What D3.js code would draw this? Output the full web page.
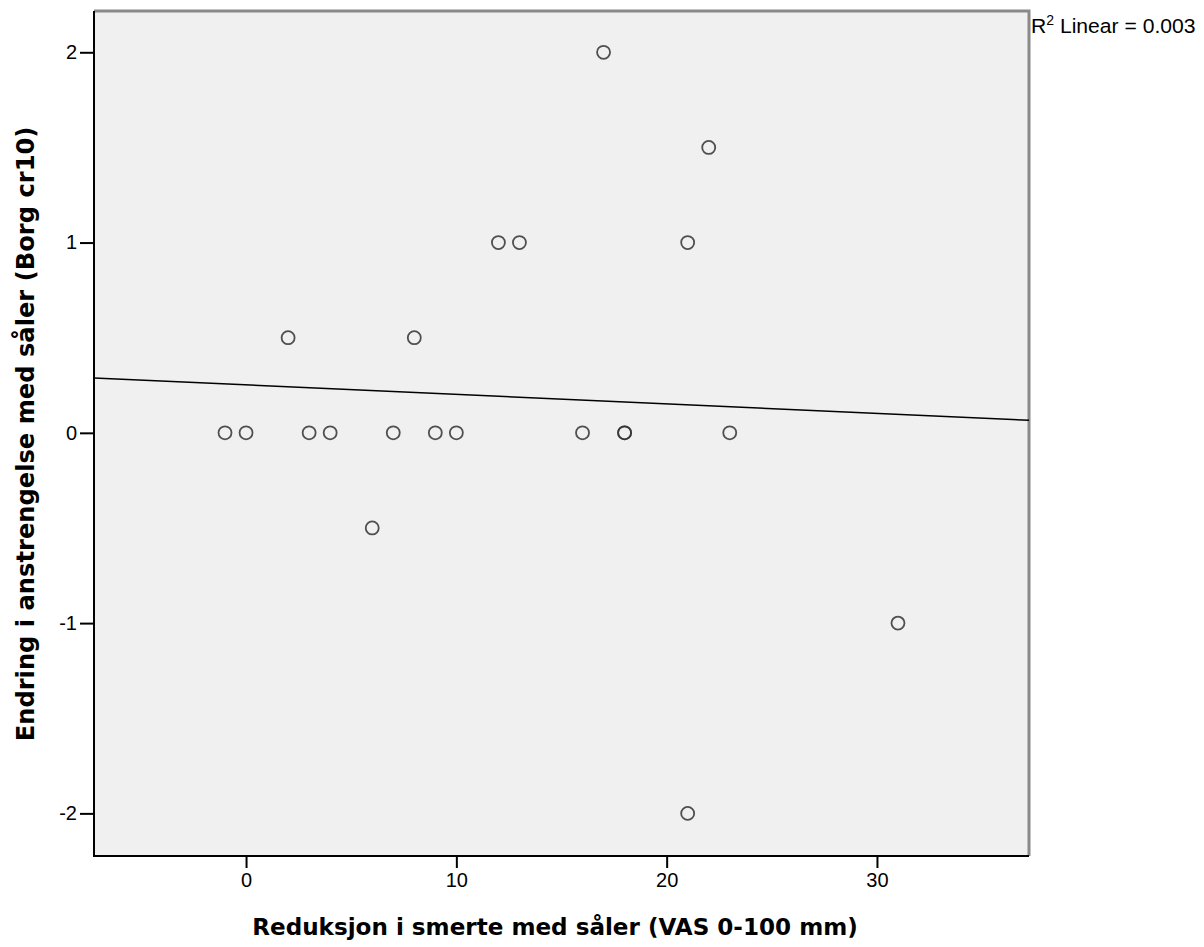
<!DOCTYPE html>
<html>
<head>
<meta charset="utf-8">
<script src="https://cdn.jsdelivr.net/npm/d3@7"></script>
<style>
  html, body { margin: 0; padding: 0; background: #fff; }
  svg { display: block; }
  text { font-family: "Liberation Sans", Arial, sans-serif; fill: #000; }
</style>
</head>
<body>
<svg id="chart" width="1204" height="947"></svg>
<script>
// Data
const xValues = [-1, 0, 2, 3, 4, 6, 7, 8, 9, 10, 12, 13, 16, 17, 18, 18, 21, 21, 22, 23, 31];
const yValues = [0, 0, 0.5, 0, 0, -0.5, 0, 0.5, 0, 0, 1, 1, 0, 2, 0, 0, 1, -2, 1.5, 0, -1];
const xTicks = [0, 10, 20, 30];
const yTicks = [-2, -1, 0, 1, 2];
const xTitle = "Reduksjon i smerte med såler (VAS 0-100 mm)";
const yTitle = "Endring i anstrengelse med såler (Borg cr10)";
const xDomain = [-7.23, 37.23];
const yDomain = [-2.224, 2.217];

const svg = d3.select("#chart");
const L = 94, R = 1029, T = 11, B = 856;

const x = d3.scaleLinear().domain(xDomain).range([L, R]);
const y = d3.scaleLinear().domain(yDomain).range([B, T]);

function fitText(sel, target, base) {
  const w = sel.node().getComputedTextLength();
  sel.attr("font-size", base * target / w);
}

// Plot background
svg.append("rect").attr("x", L).attr("y", T).attr("width", R - L).attr("height", B - T)
  .attr("fill", "#f0f0f0");
svg.append("path").attr("d", `M${L},${T}H${R}V${B}`).attr("fill", "none")
  .attr("stroke", "#8a8a8a").attr("stroke-width", 3);

// Regression line computed from the data
const n = xValues.length;
const mx = d3.mean(xValues), my = d3.mean(yValues);
let sxy = 0, sxx = 0, syy = 0;
for (let i = 0; i < n; i++) {
  sxy += (xValues[i] - mx) * (yValues[i] - my);
  sxx += (xValues[i] - mx) ** 2;
  syy += (yValues[i] - my) ** 2;
}
const slope = sxy / sxx, intercept = my - slope * mx;
const r2 = (sxy * sxy) / (sxx * syy);

svg.append("line")
  .attr("x1", x(xDomain[0])).attr("y1", y(intercept + slope * xDomain[0]))
  .attr("x2", x(xDomain[1])).attr("y2", y(intercept + slope * xDomain[1]))
  .attr("stroke", "#000").attr("stroke-width", 1.5);

// Points
svg.append("g").selectAll("circle").data(xValues.map((v, i) => [v, yValues[i]]))
  .join("circle")
  .attr("cx", d => x(d[0])).attr("cy", d => y(d[1])).attr("r", 6.5)
  .attr("fill", "none").attr("stroke", "#333").attr("stroke-opacity", 0.85).attr("stroke-width", 1.8);

// Axes
const fmt = d => String(d);
const xAxis = svg.append("g").attr("transform", `translate(0,${B})`)
  .call(d3.axisBottom(x).tickValues(xTicks).tickFormat(fmt).tickSize(12).tickPadding(5).tickSizeOuter(0));
const yAxis = svg.append("g").attr("transform", `translate(${L},0)`)
  .call(d3.axisLeft(y).tickValues(yTicks).tickFormat(fmt).tickSize(14).tickPadding(3).tickSizeOuter(0));
[xAxis, yAxis].forEach(a => {
  a.attr("font-size", 20).attr("font-family", "'Liberation Sans', Arial, sans-serif");
  a.select(".domain").attr("stroke", "#000").attr("stroke-width", 2);
  a.selectAll(".tick line").attr("stroke", "#000").attr("stroke-width", 2);
  a.selectAll(".tick text").attr("fill", "#222");
});
xAxis.select(".domain").attr("d", `M${L},0H${R}`);
yAxis.select(".domain").attr("d", `M0,${T}V${B + 1}`);

// Titles
const xt = svg.append("text").attr("x", 555).attr("y", 935).attr("text-anchor", "middle")
  .style("font-family", "'DejaVu Sans', sans-serif")
  .attr("font-size", 22).attr("font-weight", "bold").text(xTitle);
fitText(xt, 606, 22);
const yt = svg.append("text").attr("transform", `translate(34,${434}) rotate(-90)`)
  .style("font-family", "'DejaVu Sans', sans-serif")
  .attr("text-anchor", "middle").attr("font-size", 22).attr("font-weight", "bold").text(yTitle);
fitText(yt, 615, 22);

// R² label
const r2t = svg.append("text").attr("x", 1031).attr("y", 33).attr("font-size", 20);
r2t.append("tspan").text("R");
r2t.append("tspan").attr("dy", -8).attr("font-size", 14).text("2");
r2t.append("tspan").attr("dy", 8).text(" Linear = " + r2.toFixed(3));
fitText(r2t, 165, 20);
</script>
</body>
</html>
